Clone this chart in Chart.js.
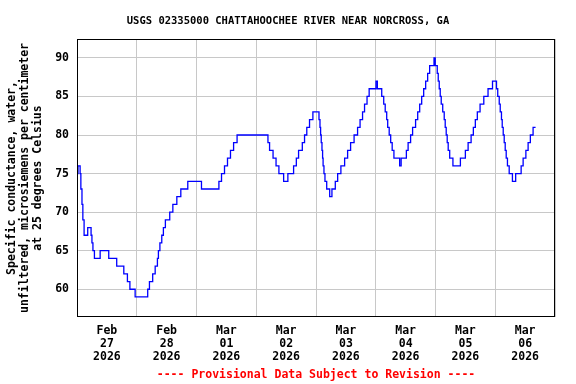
<!DOCTYPE html>
<html>
<head>
<meta charset="utf-8">
<script src="https://cdn.jsdelivr.net/npm/chart.js@4"></script>
<style>
  html, body { margin: 0; padding: 0; background: #fff; }
</style>
</head>
<body>
<canvas id="grafica" width="576" height="384"></canvas>
<script>
'use strict';

const tituloGrafica = 'USGS 02335000 CHATTAHOOCHEE RIVER NEAR NORCROSS, GA';
const tituloEjeY = ['Specific conductance, water,', 'unfiltered, microsiemens per centimeter', 'at 25 degrees Celsius'];
const avisoProvisional = '---- Provisional Data Subject to Revision ----';

// Etiquetas de cada día (van a mediodía, la rejilla va a medianoche)
const etiquetasDias = [
    ['Feb', '27', '2026'], ['Feb', '28', '2026'], ['Mar', '01', '2026'], ['Mar', '02', '2026'],
    ['Mar', '03', '2026'], ['Mar', '04', '2026'], ['Mar', '05', '2026'], ['Mar', '06', '2026']
];
const ticksY = [60, 65, 70, 75, 80, 85, 90];

// Horas desde Feb 27 00:00 en que cambia la lectura (uS/cm)
const horas = [
    0.1, 0.4, 1.25, 1.55, 2.0, 2.35, 2.85, 4.3, 5.65, 6.0, 6.4, 7.0, 9.3, 12.75, 15.95, 18.8, 20.25, 21.25, 23.35,
    28.4, 29.1, 30.4, 31.4, 32.3, 32.7, 33.3, 34.05, 34.7, 35.5, 37.25, 38.5, 40.1, 41.7, 44.5, 50.0,
    57.0, 58.05, 59.25, 60.45, 61.65, 62.9, 64.3, 76.7, 77.35, 78.75, 79.95, 81.1, 83.0, 84.7,
    87.0, 88.1, 89.0, 90.5, 91.4, 92.3, 93.4, 94.75, 97.2, 97.6, 97.85, 98.1, 98.4, 98.65, 98.85, 99.2, 99.6,
    100.3, 101.5, 102.4, 103.75, 104.7, 106.0, 107.5, 108.7, 109.9, 111.3, 112.7, 113.7, 114.7, 115.5, 116.5,
    117.35, 120.1, 120.65, 122.4, 123.2, 123.8, 124.4, 124.8, 125.4, 126.0, 126.6, 127.3, 129.6, 130.2,
    132.3, 133.0, 134.0, 134.8, 136.0, 136.85, 137.65, 138.45, 139.25, 140.05, 140.85, 141.65, 143.4, 143.9,
    144.7, 145.1, 145.5, 145.9, 146.3, 146.9, 147.5, 147.9, 148.3, 148.7, 149.1, 149.7, 151.0,
    154.0, 156.0, 157.1, 158.3, 159.2, 160.0, 160.8, 161.9, 163.4, 165.1, 166.9, 168.5, 169.0, 169.6, 170.0,
    170.5, 170.8, 171.2, 171.6, 172.0, 172.4, 172.9, 173.6, 174.9, 176.2, 178.4, 179.2, 180.3, 181.2, 182.1,
    183.2, 184.2
];
const conductancia = [
    75, 76, 75, 73, 71, 69, 67, 68, 67, 66, 65, 64, 65, 64, 63, 62, 61, 60, 59,
    60, 61, 62, 63, 64, 65, 66, 67, 68, 69, 70, 71, 72, 73, 74, 73,
    74, 75, 76, 77, 78, 79, 80, 79, 78, 77, 76, 75, 74, 75,
    76, 77, 78, 79, 80, 81, 82, 83, 82, 81, 80, 79, 78, 77, 76, 75, 74,
    73, 72, 73, 74, 75, 76, 77, 78, 79, 80, 81, 82, 83, 84, 85,
    86, 87, 86, 85, 84, 83, 82, 81, 80, 79, 78, 77, 76, 77,
    78, 79, 80, 81, 82, 83, 84, 85, 86, 87, 88, 89, 90, 89,
    88, 87, 86, 85, 84, 83, 82, 81, 80, 79, 78, 77, 76,
    77, 78, 79, 80, 81, 82, 83, 84, 85, 86, 87, 86, 85, 84, 83,
    82, 81, 80, 79, 78, 77, 76, 75, 74, 75, 76, 77, 78, 79, 80,
    81, 81
];

const FUENTE = 'DejaVu Sans Mono';
const GRIS = '#c8c8c8';

// Recuadro negro alrededor del área de la gráfica
const marco = {
    id: 'marco',
    afterDraw(chart) {
        const { ctx, chartArea: a } = chart;
        ctx.save();
        ctx.strokeStyle = '#000';
        ctx.lineWidth = 1;
        ctx.strokeRect(a.left + 0.5, a.top + 0.5, a.right - a.left - 1, a.bottom - a.top - 1);
        ctx.restore();
    }
};

const ticksX = [];
for (let h = 0; h <= 192; h += 12) ticksX.push({ value: h });

new Chart(document.getElementById('grafica').getContext('2d'), {
    type: 'line',
    data: {
        datasets: [{
            data: horas.map((h, i) => ({ x: h, y: conductancia[i] })),
            borderColor: '#0000ff',
            borderWidth: 1.3,
            pointRadius: 0,
            stepped: true,
            fill: false
        }]
    },
    options: {
        responsive: false,
        animation: false,
        devicePixelRatio: 1,
        layout: { padding: 0 },
        plugins: {
            legend: { display: false },
            tooltip: { enabled: false },
            title: {
                display: true,
                text: tituloGrafica,
                color: '#000',
                font: { family: FUENTE, size: 10.5, weight: 'bold', lineHeight: '12px' },
                padding: { top: 15, bottom: 12 }
            }
        },
        scales: {
            x: {
                type: 'linear',
                min: 0,
                max: 192,
                afterBuildTicks: (s) => { s.ticks = ticksX.map(t => ({ value: t.value })); },
                afterFit: (s) => { s.height = 67; },
                grid: {
                    color: (c) => (c.tick && c.tick.value % 24 === 0) ? GRIS : 'rgba(0,0,0,0)',
                    drawTicks: false
                },
                border: { display: false },
                ticks: {
                    autoSkip: false,
                    maxRotation: 0,
                    padding: 7.5,
                    color: '#000',
                    font: { family: FUENTE, size: 11.5, weight: 'bold', lineHeight: '13px' },
                    callback: (v) => (v % 24 === 12) ? etiquetasDias[(v - 12) / 24] : ''
                },
                title: {
                    display: true,
                    text: avisoProvisional,
                    color: '#ff0000',
                    font: { family: FUENTE, size: 11.5, weight: 'bold', lineHeight: '13px' },
                    padding: { top: 0, bottom: 2.5 }
                }
            },
            y: {
                min: 56.4,
                max: 92.45,
                afterBuildTicks: (s) => { s.ticks = ticksY.map(v => ({ value: v })); },
                afterFit: (s) => { s.width = 77; },
                grid: { color: GRIS, drawTicks: false },
                border: { display: false },
                ticks: {
                    padding: 8,
                    color: '#000',
                    font: { family: FUENTE, size: 11.5, weight: 'bold', lineHeight: '13px' }
                },
                title: {
                    display: true,
                    text: tituloEjeY,
                    color: '#000',
                    font: { family: FUENTE, size: 11.5, weight: 'bold', lineHeight: '13px' },
                    padding: { top: 6, bottom: 0 }
                }
            },
            y2: {
                position: 'right',
                grid: { display: false },
                border: { display: false },
                ticks: { display: false },
                afterFit: (s) => { s.width = 21; }
            }
        }
    },
    plugins: [marco]
});
</script>
</body>
</html>
